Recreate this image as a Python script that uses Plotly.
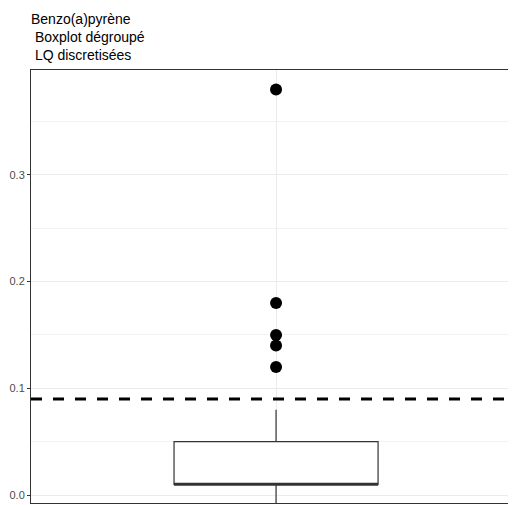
import plotly.graph_objects as go

# ---- data ----
title_lines = ["Benzo(a)pyrène", "\u00a0Boxplot dégroupé", "\u00a0LQ discretisées"]
q1 = [0.01]
median = [0.01]
q3 = [0.05]
lower_fence = [-0.008]
upper_fence = [0.08]
outliers = [0.38, 0.18, 0.15, 0.14, 0.12]
lq_threshold = 0.09
y_tickvals = [0.0, 0.1, 0.2, 0.3]
y_ticktext = ["0.0", "0.1", "0.2", "0.3"]
box_width = 0.5

# page body has an 8px default margin -> figure sized to fill the rest of the window
W, H = 508, 497

fig = go.Figure()

fig.add_trace(go.Box(
    x=[0], q1=q1, median=median, q3=q3,
    lowerfence=lower_fence, upperfence=upper_fence,
    width=box_width, whiskerwidth=0,
    fillcolor="white", line=dict(color="#333333", width=1.2),
    boxpoints=False, showlegend=False, hoverinfo="skip",
))

# thicker median line (ggplot style)
fig.add_trace(go.Scatter(
    x=[-box_width / 2, box_width / 2], y=[median[0], median[0]],
    mode="lines", line=dict(color="#333333", width=2.6),
    showlegend=False, hoverinfo="skip",
))

# outliers
fig.add_trace(go.Scatter(
    x=[0] * len(outliers), y=outliers, mode="markers",
    marker=dict(color="black", size=12),
    showlegend=False, hoverinfo="skip",
))

# dashed LQ line
fig.add_shape(type="line", xref="paper", x0=0, x1=1, yref="y",
              y0=lq_threshold, y1=lq_threshold,
              line=dict(color="black", width=3, dash="11px,11px"))

fig.update_layout(
    width=W, height=H,
    margin=dict(l=23, r=0, t=62, b=2, autoexpand=False),
    paper_bgcolor="white", plot_bgcolor="white",
    font=dict(family="Liberation Sans, Arial, sans-serif"),
    title=dict(text="<br>".join(title_lines), x=23 / W, xref="container",
               xanchor="left", y=1 - 16 / H, yref="container", yanchor="top",
               font=dict(size=14, color="black")),
    hovermode=False,
    xaxis=dict(range=[-0.6005, 0.588], tickvals=[0], showticklabels=False,
               automargin=False,
               showgrid=True, gridcolor="#ebebeb", gridwidth=1,
               zeroline=False, showline=True, linecolor="#333333",
               linewidth=1, mirror=True, ticks=""),
    yaxis=dict(range=[-0.0075, 0.3983], tickvals=y_tickvals, ticktext=y_ticktext,
               automargin=False,
               showgrid=True, gridcolor="#ebebeb", gridwidth=1,
               minor=dict(dtick=0.05, tick0=0.05, showgrid=True,
                          gridcolor="#f2f2f2", gridwidth=0.8),
               zeroline=False, showline=True, linecolor="#333333",
               linewidth=1, mirror=False, ticks="outside", ticklen=3,
               tickcolor="#333333", tickwidth=1,
               tickfont=dict(size=11, color="#4d4d4d")),
)

fig.write_html("out.html", config={"displayModeBar": False})
